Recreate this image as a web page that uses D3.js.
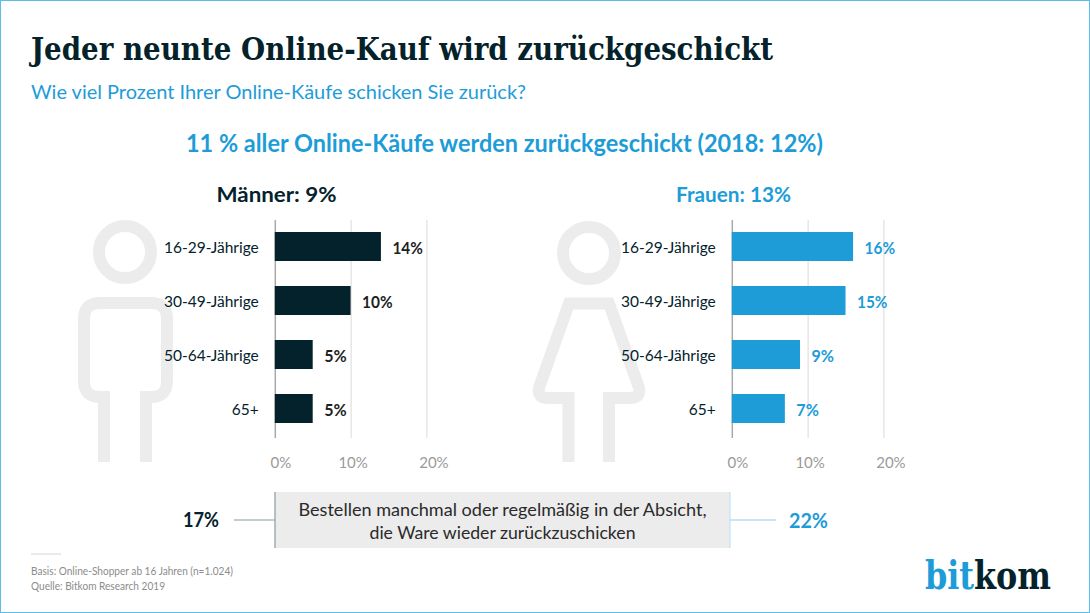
<!DOCTYPE html>
<html>
<head>
<meta charset="utf-8">
<script src="https://cdn.jsdelivr.net/npm/d3@7"></script>
<style>
  html, body { margin: 0; padding: 0; background: #fff; }
  svg { display: block; font-family: Lato, "Noto Sans", sans-serif; }
</style>
</head>
<body>
<div id="chart"></div>
<script>
const ageGroups = ['16-29-Jährige', '30-49-Jährige', '50-64-Jährige', '65+'];
const menValues = [14, 10, 5, 5];
const womenValues = [16, 15, 9, 7];
const tickValues = [0, 10, 20];
const intentMen = '17%';
const intentWomen = '22%';

const dark = '#04222b';
const blue = '#1d9cd8';
const slab = '"DejaVu Serif Condensed", "DejaVu Serif", serif';
const width = 1090;
const height = 613;

const svg = d3.select('#chart').append('svg')
  .attr('width', width)
  .attr('height', height);

// frame
svg.append('rect')
  .attr('x', 0.5).attr('y', 0.5)
  .attr('width', width - 1).attr('height', height - 1)
  .attr('fill', 'none')
  .attr('stroke', '#5dbdea');

const addText = (str, x, y, o) => svg.append('text')
  .attr('x', x).attr('y', y)
  .attr('fill', o.fill || dark)
  .attr('font-size', o.size)
  .attr('font-weight', o.weight || 400)
  .attr('font-family', o.family || null)
  .attr('text-anchor', o.anchor || 'start')
  .attr('textLength', o.len || null)
  .attr('lengthAdjust', o.len ? 'spacingAndGlyphs' : null)
  .text(str);

addText('Jeder neunte Online-Kauf wird zurückgeschickt', 31, 60,
  { size: 31, weight: 700, family: slab, len: 742 });
addText('Wie viel Prozent Ihrer Online-Käufe schicken Sie zurück?', 31, 99,
  { size: 20, fill: blue, len: 495 });
addText('11 % aller Online-Käufe werden zurückgeschickt (2018: 12%)', 186, 152,
  { size: 24, weight: 700, fill: blue, len: 637 });

// person icons, drawn behind the bars
const iconG = svg.append('g')
  .attr('fill', 'none')
  .attr('stroke', '#ececec')
  .attr('stroke-width', 12);
iconG.append('circle').attr('cx', 125).attr('cy', 252).attr('r', 26);
iconG.append('path').attr('d',
  'M104,462V397H100Q84,397 84,381V319Q84,303 100,303H151Q167,303 167,319V381Q167,397 151,397H146V462');
iconG.append('circle').attr('cx', 589).attr('cy', 253).attr('r', 26);
iconG.append('path').attr('d',
  'M568.5,462V398H549Q535,398 540,385L569,303.5H609L638,385Q643,398 629,398H609V462');

const panel = (o) => {
  const x = d3.scaleLinear().domain([0, 20]).range([o.x0, o.x0 + 151.6]);
  const y = d3.scaleBand().domain(ageGroups).range([219.5, 435.5])
    .paddingInner(25 / 54).paddingOuter(25 / 108);
  const rows = ageGroups.map((group, i) => ({ group, value: o.values[i] }));

  addText(o.title, o.titleX, 202, { size: 21, weight: 700, fill: o.color, anchor: 'middle', len: o.titleLen });

  const axis = svg.append('g')
    .attr('transform', `translate(0,438)`)
    .call(d3.axisBottom(x).tickValues(tickValues).tickFormat(d => d + '%').tickSize(-218).tickSizeOuter(0));
  axis.select('.domain').remove();
  axis.selectAll('line').attr('stroke', d => d === 0 ? '#a9a9a9' : '#d9d9d9').attr('stroke-width', d => d === 0 ? 1.5 : 1);
  axis.selectAll('text')
    .attr('y', 19)
    .attr('dx', d => ({ 0: 5.5, 10: 2, 20: 7 })[d])
    .attr('fill', '#9a9a9a')
    .attr('font-size', 15)
    .attr('font-family', 'Lato, "Noto Sans", sans-serif');

  svg.append('g').selectAll('rect').data(rows).join('rect')
    .attr('x', x(0))
    .attr('y', d => y(d.group))
    .attr('width', d => x(d.value) - x(0))
    .attr('height', y.bandwidth())
    .attr('fill', o.color);

  svg.append('g').selectAll('text').data(rows).join('text')
    .attr('x', o.x0 - 16)
    .attr('y', d => y(d.group) + y.bandwidth() / 2 + 6.5)
    .attr('text-anchor', 'end')
    .attr('fill', dark)
    .attr('font-size', 15.5)
    .text(d => d.group);

  // percent labels are narrower than Lato bold, squeeze them a little
  svg.append('g').selectAll('text').data(rows).join('text')
    .attr('x', d => x(d.value) + 11.5)
    .attr('y', d => y(d.group) + y.bandwidth() / 2 + 7.5)
    .attr('fill', o.valueColor)
    .attr('font-size', 17.5)
    .attr('font-weight', 700)
    .attr('textLength', d => String(d.value).length === 2 ? 30.5 : 22.5)
    .attr('lengthAdjust', 'spacingAndGlyphs')
    .text(d => d.value + '%');
};

panel({ x0: 274.8, values: menValues, color: dark, valueColor: '#1f1f1f', title: 'Männer: 9%', titleX: 276.5, titleLen: 120 });
panel({ x0: 731.8, values: womenValues, color: blue, valueColor: blue, title: 'Frauen: 13%', titleX: 733.5, titleLen: 115 });

// bottom box
svg.append('rect').attr('x', 275).attr('y', 492).attr('width', 455).attr('height', 56).attr('fill', '#ececec');
svg.append('line').attr('x1', 275).attr('x2', 275).attr('y1', 492).attr('y2', 548).attr('stroke', '#8b9a9e').attr('stroke-width', 1.2);
svg.append('line').attr('x1', 730).attr('x2', 730).attr('y1', 492).attr('y2', 548).attr('stroke', '#bfe3f5').attr('stroke-width', 1.2);
svg.append('line').attr('x1', 234).attr('x2', 275).attr('y1', 520).attr('y2', 520).attr('stroke', '#8b9a9e').attr('stroke-width', 1.2);
svg.append('line').attr('x1', 730).attr('x2', 776).attr('y1', 520).attr('y2', 520).attr('stroke', '#8fd0ee').attr('stroke-width', 1.2);
addText('Bestellen manchmal oder regelmäßig in der Absicht,', 502.5, 516, { size: 17, anchor: 'middle', fill: '#2a2a2a', len: 408 });
addText('die Ware wieder zurückzuschicken', 502.5, 539, { size: 17, anchor: 'middle', fill: '#2a2a2a', len: 266 });
addText(intentMen, 183, 527, { size: 21, weight: 700, len: 36 });
addText(intentWomen, 789, 528, { size: 21, weight: 700, fill: blue, len: 39 });

// footer
svg.append('line').attr('x1', 31).attr('x2', 61).attr('y1', 554).attr('y2', 554).attr('stroke', '#d5d5d5');
addText('Basis: Online-Shopper ab 16 Jahren (n=1.024)', 31, 575, { size: 10.5, fill: '#8c8c8c', len: 202 });
addText('Quelle: Bitkom Research 2019', 31, 590, { size: 10.5, fill: '#8c8c8c', len: 134 });

// logo
const logo = svg.append('text').attr('x', 925).attr('y', 589)
  .attr('font-size', 39).attr('font-weight', 700)
  .attr('font-family', slab)
  .attr('textLength', 126).attr('lengthAdjust', 'spacingAndGlyphs');
logo.append('tspan').attr('fill', blue).text('bit');
logo.append('tspan').attr('fill', dark).text('kom');
</script>
</body>
</html>
